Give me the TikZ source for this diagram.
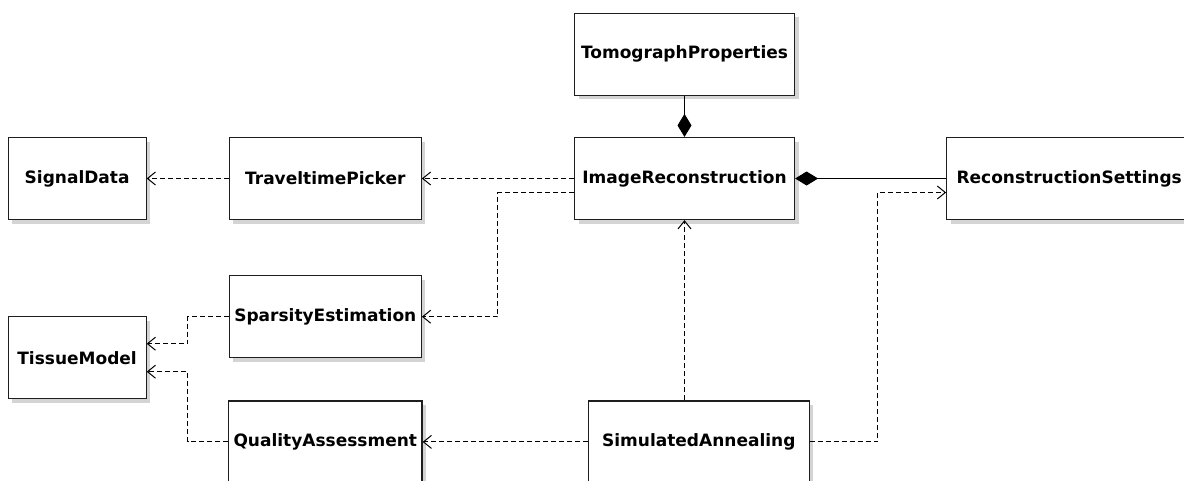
\documentclass[tikz,border=0pt]{standalone}
\usepackage{fontspec}
\setmainfont{DejaVu Sans}
\usepackage{tikz}
\usetikzlibrary{
  arrows.meta,
  positioning,
  shadows,
  calc
}
\definecolor{boxline}{RGB}{30,30,30}
\definecolor{shade}{RGB}{212,212,212}

\begin{document}
\begin{tikzpicture}[
  node distance=40pt,
  cls/.style={
    draw=boxline,
    line width=1.2pt,
    fill=white,
    align=center,
    font=\fontsize{17pt}{20pt}\selectfont\bfseries,
    inner xsep=5pt,
    minimum height=82pt,
    general shadow={fill=shade, shadow xshift=4pt, shadow yshift=-4pt}
  },
  dep/.style={-{Straight Barb[length=8pt,width=13pt]}, line width=1pt, dash pattern=on 5pt off 3pt},
  comp/.style={-{Diamond[length=23pt,width=14pt]}, line width=1pt}
]
\useasboundingbox (0,0) rectangle (1184pt,-480pt);

\node[cls, minimum width=220pt] (ir) at (684.5pt,-178.5pt) {ImageReconstruction};
\node[cls, minimum width=220pt, above=41pt of ir] (tomo) {TomographProperties};
\node[cls, minimum width=192pt, left=152pt of ir] (tp) {TraveltimePicker};
\node[cls, minimum width=138pt, left=82pt of tp] (sd) {SignalData};
\node[cls, minimum width=245pt, right=151pt of ir] (rs) {ReconstructionSettings};
\node[cls, minimum width=192pt, below=55pt of tp] (se) {SparsityEstimation};
\node[cls, minimum width=192pt, below=42pt of se] (qa) {QualityAssessment};
\node[cls, minimum width=138pt, below=96pt of sd] (tm) {TissueModel};
\node[cls, minimum width=221pt, right=165pt of qa] (sa) {SimulatedAnnealing};

% bend points
\coordinate (m1) at ($(tp.east)!.5!(ir.west)$);
\coordinate (m2) at ($(tm.east)!.5!(se.west)$);
\coordinate (m3) at ($(sa.east)!.5!(rs.west)$);
\coordinate (irout) at ([yshift=-14pt]ir.west);
\coordinate (rsin) at ([yshift=-14pt]rs.west);
\coordinate (tmin1) at ([yshift=14pt]tm.east);
\coordinate (tmin2) at ([yshift=-14pt]tm.east);

\draw[comp] (tomo) -- (ir);
\draw[comp] (rs) -- (ir);

\draw[dep] (ir) -- (tp);
\draw[dep] (tp) -- (sd);
\draw[dep] (irout) -| (m1 |- se.east) -- (se.east);
\draw[dep] (se.west) -| (m2 |- tmin1) -- (tmin1);
\draw[dep] (qa.west) -| (m2 |- tmin2) -- (tmin2);
\draw[dep] (sa) -- (qa);
\draw[dep] (sa.north -| ir.south) -- (ir.south);
\draw[dep] (sa.east) -| (m3 |- rsin) -- (rsin);
\end{tikzpicture}
\end{document}
